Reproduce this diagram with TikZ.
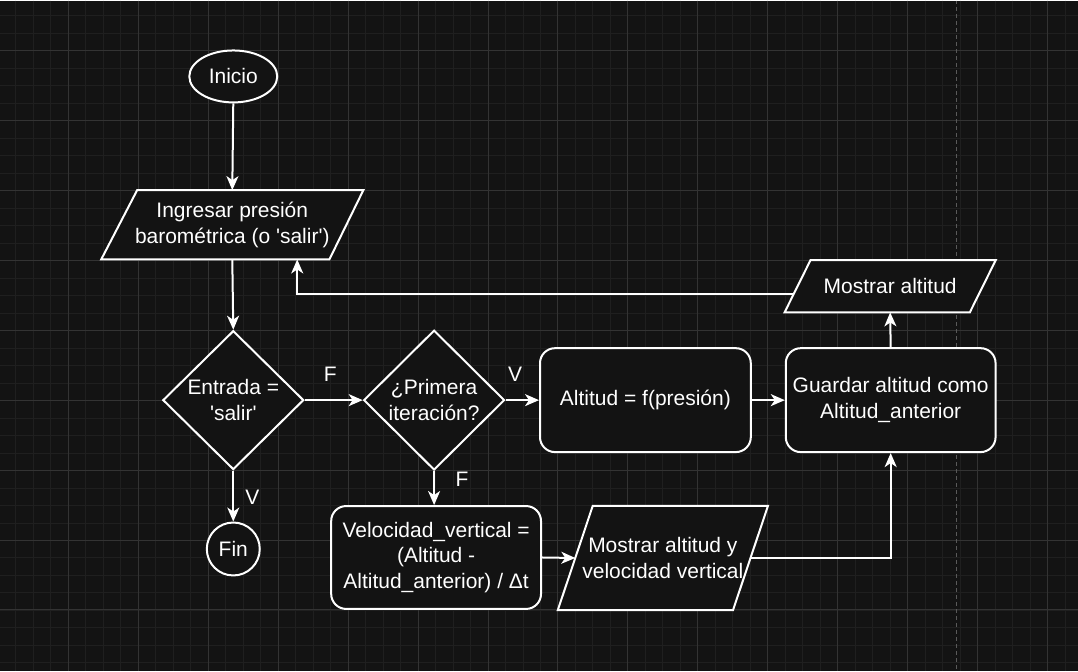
\documentclass[tikz,border=0pt]{standalone}
\usepackage{fontspec}
\setmainfont{Liberation Sans}
\usetikzlibrary{shapes.geometric,arrows.meta}
\definecolor{bgc}{HTML}{131313}
\definecolor{gminor}{HTML}{1F1F1F}
\definecolor{gmajor}{HTML}{333333}
\definecolor{pageln}{HTML}{5A5A5A}
\pgfdeclarelayer{gridlayer}
\pgfdeclarelayer{shplayer}
\pgfsetlayers{gridlayer,shplayer,main}
\begin{document}
\begin{tikzpicture}[x=1pt,y=-1pt,
  every node/.style={font=\fontsize{21}{25.5}\selectfont, text=white},
  ln/.style={draw=white, line width=2pt},
  box/.style={ln, fill=bgc, rectangle, rounded corners=15pt, align=center, inner sep=0pt},
  dia/.style={ln, fill=bgc, diamond, aspect=1, align=center, inner sep=0pt},
  ptext/.style={rectangle, align=center, inner sep=0pt},
  para/.style={ln, fill=bgc, line join=miter},
  arr/.style={draw=white, line width=2pt, -{Stealth[length=14pt,width=12pt,inset=4pt]}},
  lbl/.style={inner sep=0pt}
]
\begin{pgfonlayer}{gridlayer}
  \fill[bgc] (0,0) rectangle (1078,671);
  \foreach \i in {0,...,60} {\draw[gminor, line width=1pt] ({15.5+17.5*\i},0) -- ({15.5+17.5*\i},671);}
  \foreach \j in {0,...,37} {\draw[gminor, line width=1pt] (0,{15.5+17.5*\j}) -- (1078,{15.5+17.5*\j});}
  \foreach \i in {0,...,14} {\draw[gmajor, line width=1pt] ({68+70*\i},0) -- ({68+70*\i},671);}
  \foreach \j in {0,...,8} {\draw[gmajor, line width=1pt] (0,{50+70*\j}) -- (1078,{50+70*\j});}
  \draw[pageln, line width=1pt, dash pattern=on 4pt off 3pt] (957,0) -- (957,671);
\end{pgfonlayer}

% nodes
\node[ellipse, ln, fill=bgc, minimum width=88, minimum height=52, inner sep=0pt] (inicio) at (233,76) {Inicio};
\node[ptext, minimum width=262, minimum height=69] (ing) at (232,224.5) {Ingresar presión\\barométrica (o \textquotesingle salir\textquotesingle)};
\node[dia, minimum width=141, minimum height=139] (d1) at (233,400) {Entrada =\\\textquotesingle salir\textquotesingle};
\node[dia, minimum width=141, minimum height=140] (d2) at (434,400) {¿Primera\\iteración?};
\node[circle, ln, fill=bgc, minimum size=53, inner sep=0pt] (fin) at (233,549) {Fin};
\node[box, minimum width=211, minimum height=104] (alt) at (645.5,400) {Altitud = f(presión)};
\node[box, minimum width=210, minimum height=104] (gua) at (891,400) {Guardar altitud como\\Altitud\_anterior};
\node[ptext, minimum width=211, minimum height=52] (mos) at (890.5,286) {Mostrar altitud};
\node[box, minimum width=210, minimum height=103] (vel) at (436,557.5) {Velocidad\_vertical =\\(Altitud -\\Altitud\_anterior) / Δt};
\node[ptext, minimum width=210, minimum height=104] (mv) at (663,558) {Mostrar altitud y\\velocidad vertical};

\begin{pgfonlayer}{shplayer}
  \draw[para] ([xshift=36pt]ing.north west) -- (ing.north east) -- ([xshift=-34pt]ing.south east) -- (ing.south west) -- cycle;
  \draw[para] ([xshift=26pt]mos.north west) -- (mos.north east) -- ([xshift=-26pt]mos.south east) -- (mos.south west) -- cycle;
  \draw[para] ([xshift=35pt]mv.north west) -- (mv.north east) -- ([xshift=-35pt]mv.south east) -- (mv.south west) -- cycle;
\end{pgfonlayer}

% labels
\node[lbl] (lf1) at (330,374) {F};
\node[lbl] (lv1) at (515,374) {V};
\node[lbl] (lv2) at (252,497) {V};
\node[lbl] (lf2) at (462,479) {F};

% connectors
\draw[arr] (inicio.south) -- (ing.north);
\draw[arr] (ing.south) -- (d1.north);
\draw[arr] (d1.east) -- (d2.west);
\draw[arr] (d2.east) -- (alt.west);
\draw[arr] (d1.south) -- (fin.north);
\draw[arr] (d2.south) -- (d2.south |- vel.north);
\draw[arr] (alt.east) -- (gua.west);
\draw[arr] (gua.north) -- (mos.south);
\draw[arr] ([xshift=9pt,yshift=-8pt]mos.west) -| ([xshift=65pt]ing.south);
\draw[arr] (vel.east) -- ([xshift=17.5pt]mv.west);
\draw[arr] ([xshift=-17.5pt]mv.east) -| (gua.south);
\end{tikzpicture}
\end{document}
